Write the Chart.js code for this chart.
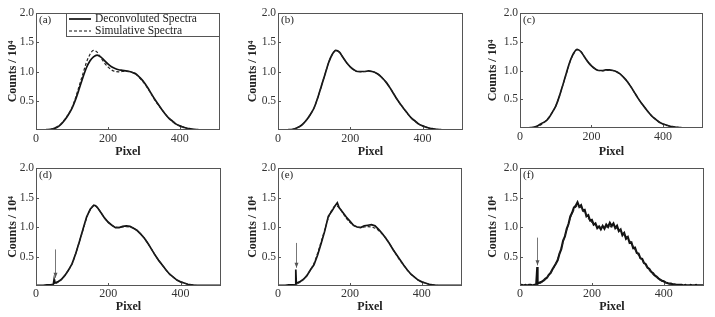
<!DOCTYPE html>
<html>
<head>
<meta charset="utf-8">
<script src="https://cdn.jsdelivr.net/npm/chart.js@4.4.1/dist/chart.umd.min.js"></script>
<style>
body { margin: 0; background: #fff; width: 715px; height: 317px; position: relative; overflow: hidden; }
canvas { position: absolute; }
</style>
</head>
<body>
<canvas id="pa" width="238" height="160" style="left:0;top:0"></canvas>
<canvas id="pb" width="238" height="160" style="left:240px;top:0"></canvas>
<canvas id="pc" width="237" height="160" style="left:478px;top:0"></canvas>
<canvas id="pd" width="238" height="162" style="left:0;top:155px"></canvas>
<canvas id="pe" width="238" height="162" style="left:240px;top:155px"></canvas>
<canvas id="pf" width="237" height="162" style="left:478px;top:155px"></canvas>
<script>
// axis ticks
const xTicks = [0, 200, 400];
const yTicks = [0.5, 1.0, 1.5, 2.0];

// pixel positions (every 10 px)
const pixel10 = [0,10,20,30,40,50,60,70,80,90,100,110,120,130,140,150,160,170,180,190,200,
  210,220,230,240,250,260,270,280,290,300,310,320,330,340,350,360,370,380,390,400,
  410,420,430,440,450,460,470,480,490,500,510];

// simulative spectrum (counts / 1e4)
const simulative = [0,0,0,0.005,0.01,0.03,0.06,0.11,0.18,0.27,0.38,0.55,0.75,0.95,1.15,1.29,1.36,1.33,1.24,1.15,1.08,
  1.03,1.00,0.995,1.00,1.005,1.00,0.98,0.94,0.88,0.81,0.72,0.62,0.52,0.43,0.35,0.27,0.20,0.15,0.10,0.07,
  0.05,0.03,0.02,0.01,0.005,0,0,0,0,0,0];

// deconvoluted spectra, panels a-c
const deconvA = [0,0,0,0.005,0.01,0.025,0.05,0.10,0.17,0.26,0.37,0.52,0.70,0.89,1.06,1.18,1.25,1.28,1.25,1.19,1.13,
  1.08,1.05,1.03,1.02,1.01,1.00,0.98,0.95,0.89,0.82,0.73,0.63,0.53,0.44,0.35,0.27,0.20,0.15,0.10,0.07,
  0.05,0.03,0.02,0.01,0.005,0,0,0,0,0,0];
const deconvB = [0,0,0,0.005,0.01,0.03,0.06,0.11,0.18,0.27,0.38,0.55,0.75,0.95,1.15,1.29,1.36,1.33,1.24,1.15,1.08,
  1.03,1.00,1.00,1.00,1.01,1.00,0.98,0.94,0.88,0.81,0.72,0.62,0.52,0.43,0.35,0.27,0.20,0.15,0.10,0.07,
  0.05,0.03,0.02,0.01,0.005,0,0,0,0,0,0];
const deconvC = [0,0,0,0.005,0.015,0.04,0.08,0.11,0.17,0.27,0.38,0.55,0.75,0.96,1.16,1.30,1.37,1.33,1.24,1.15,1.08,
  1.03,1.00,1.00,1.01,1.01,1.00,0.98,0.94,0.88,0.81,0.72,0.62,0.52,0.43,0.35,0.27,0.20,0.15,0.10,0.07,
  0.05,0.03,0.02,0.01,0.005,0,0,0,0,0,0];

// panels d, e: spike near pixel 50
const pixelSpike = [0,10,20,30,40,48,49,50,51,52,60,70,80,90,100,110,120,130,140,150,160,165,
  170,180,190,200,210,220,230,240,250,260,270,280,290,300,310,320,330,340,350,360,370,380,390,400,
  410,420,430,440,450,460,470,480,490,500,510];
const deconvD = [0.01,0.01,0.01,0.02,0.02,0.03,0.03,0.11,0.05,0.05,0.07,0.11,0.18,0.27,0.38,0.55,0.75,0.96,1.17,1.30,1.37,1.36,
  1.33,1.24,1.15,1.08,1.03,0.99,0.99,1.01,1.02,1.01,0.98,0.94,0.88,0.81,0.72,0.62,0.52,0.43,0.35,0.27,0.20,0.15,0.10,0.07,
  0.05,0.03,0.02,0.01,0.01,0.01,0.01,0.01,0.01,0.01,0.01];
const deconvE = [0.01,0.01,0.01,0.02,0.02,0.02,0.02,0.28,0.04,0.05,0.07,0.11,0.17,0.27,0.36,0.52,0.72,0.93,1.18,1.27,1.37,1.41,
  1.33,1.25,1.17,1.10,1.03,1.00,0.99,1.02,1.03,1.04,1.02,0.96,0.89,0.81,0.72,0.62,0.53,0.44,0.35,0.27,0.20,0.15,0.10,0.07,
  0.05,0.03,0.02,0.01,0.01,0.01,0.01,0.01,0.01,0.01,0.01];

// panel f: every 5 px, spike near pixel 48
const pixelF = [0,5,10,15,20,25,30,35,40,45,47,48,49,
  55,60,65,70,75,80,85,90,95,100,105,110,115,120,125,130,135,140,145,150,
  155,160,165,170,175,180,185,190,195,200,205,210,215,220,225,230,235,240,245,250,
  255,260,265,270,275,280,285,290,295,300,305,310,315,320,325,330,335,340,345,350,
  355,360,365,370,375,380,385,390,395,400,405,410,415,420,425,430,435,440,445,450,
  455,460,465,470,475,480,485,490,495,500,505,510];
const deconvF = [0.01,0.02,0.01,0.02,0.01,0.02,0.02,0.01,0.02,0.02,0.02,0.32,0.04,
  0.06,0.07,0.09,0.12,0.14,0.19,0.22,0.28,0.33,0.38,0.44,0.55,0.63,0.77,0.84,0.97,1.05,1.18,1.24,1.33,
  1.36,1.42,1.34,1.37,1.28,1.29,1.18,1.20,1.11,1.12,1.04,1.06,0.98,1.01,0.96,1.02,0.97,1.04,1.00,1.07,
  1.02,1.06,0.98,1.02,0.93,0.96,0.86,0.90,0.80,0.83,0.73,0.74,0.64,0.65,0.56,0.55,0.47,0.46,0.39,0.37,
  0.31,0.29,0.24,0.22,0.18,0.16,0.13,0.11,0.09,0.08,0.06,0.05,0.04,0.04,0.03,0.03,0.02,0.02,0.02,0.02,
  0.01,0.02,0.01,0.01,0.02,0.01,0.01,0.02,0.01,0.01,0.01,0.01];

// arrows in panels d, e, f
const arrowPixel = [52, 50, 48];
const arrowFrom = [0.62, 0.73, 0.82];
const arrowTo = [0.14, 0.31, 0.35];

const SERIF = '"Liberation Serif", "Times New Roman", serif';

function pts(xs, ys) {
  return xs.map((x, i) => ({ x: x, y: ys[i] }));
}

const framePlugin = {
  id: 'frame',
  afterDraw(chart, args, opts) {
    const { ctx, chartArea: a } = chart;
    const xs = chart.scales.x, ys = chart.scales.y;
    ctx.save();
    ctx.strokeStyle = '#555';
    ctx.lineWidth = 1;
    ctx.strokeRect(a.left + 0.5, a.top + 0.5, a.right - a.left - 1, a.bottom - a.top - 1);
    ctx.beginPath();
    yTicks.forEach(v => {
      const y = Math.round(ys.getPixelForValue(v)) + 0.5;
      ctx.moveTo(a.left, y); ctx.lineTo(a.left + 3, y);
    });
    xTicks.forEach(v => {
      const x = Math.round(xs.getPixelForValue(v)) + 0.5;
      ctx.moveTo(x, a.bottom); ctx.lineTo(x, a.bottom - 3);
    });
    ctx.stroke();
    ctx.fillStyle = '#222';
    ctx.font = '11px ' + SERIF;
    ctx.textBaseline = 'top';
    ctx.fillText(opts.tag, a.left + 3, a.top + 2);

    if (opts.arrow != null) {
      const i = opts.arrow;
      const x = Math.round(xs.getPixelForValue(arrowPixel[i])) + 0.5;
      const y0 = ys.getPixelForValue(arrowFrom[i]);
      const y1 = ys.getPixelForValue(arrowTo[i]);
      ctx.strokeStyle = '#777';
      ctx.beginPath();
      ctx.moveTo(x, y0); ctx.lineTo(x, y1);
      ctx.stroke();
      ctx.fillStyle = '#555';
      ctx.beginPath();
      ctx.moveTo(x - 2, y1 - 5); ctx.lineTo(x + 2, y1 - 5); ctx.lineTo(x, y1);
      ctx.closePath();
      ctx.fill();
    }

    if (opts.legend) {
      const left = a.left + 30, top = a.top, right = a.right, bottom = a.top + 23;
      ctx.fillStyle = '#fff';
      ctx.fillRect(left, top, right - left, bottom - top);
      ctx.strokeStyle = '#555';
      ctx.strokeRect(left + 0.5, top + 0.5, right - left - 1, bottom - top);
      const items = chart.data.datasets.slice().reverse();
      items.forEach((ds, k) => {
        const y = top + 6 + k * 12;
        ctx.strokeStyle = '#111';
        ctx.lineWidth = ds.borderWidth;
        ctx.setLineDash(ds.borderDash || []);
        ctx.beginPath();
        ctx.moveTo(left + 3, y); ctx.lineTo(left + 25, y);
        ctx.stroke();
        ctx.setLineDash([]);
        ctx.fillStyle = '#222';
        ctx.font = '11.5px ' + SERIF;
        ctx.textBaseline = 'middle';
        ctx.fillText(ds.label, left + 29, y);
      });
    }
    ctx.restore();
  }
};

function makePanel(id, p) {
  const datasets = [
    {
      label: 'Simulative Spectra',
      data: pts(pixel10, simulative),
      borderColor: '#222',
      borderWidth: 1.2,
      borderDash: [3, 2],
      pointRadius: 0,
      cubicInterpolationMode: 'monotone'
    },
    {
      label: 'Deconvoluted Spectra',
      data: pts(p.xs, p.ys),
      borderColor: '#111',
      borderWidth: p.width || 1.7,
      pointRadius: 0,
      cubicInterpolationMode: p.smooth ? 'monotone' : 'default',
      tension: 0
    }
  ];
  new Chart(document.getElementById(id), {
    type: 'line',
    data: { datasets: datasets },
    plugins: [framePlugin],
    options: {
      responsive: false,
      animation: false,
      devicePixelRatio: 1,
      layout: { padding: { left: p.padL, right: p.padR, top: 13, bottom: 0 } },
      plugins: {
        legend: { display: false },
        tooltip: { enabled: false },
        frame: { tag: p.tag, legend: !!p.legend, arrow: p.arrow }
      },
      scales: {
        x: {
          type: 'linear',
          min: 0,
          max: 512,
          afterBuildTicks: s => { s.ticks = xTicks.map(v => ({ value: v })); },
          afterFit: s => { s.height = p.xH; },
          grid: { display: false, drawTicks: false },
          border: { display: false },
          ticks: { color: '#333', padding: p.tickPad, maxRotation: 0, font: { family: SERIF, size: 12 } },
          title: {
            display: true,
            text: 'Pixel',
            color: '#222',
            padding: { top: 0, bottom: p.titlePad },
            font: { family: SERIF, size: 12, weight: 'bold' }
          }
        },
        y: {
          min: 0,
          max: 2,
          afterBuildTicks: s => { s.ticks = yTicks.map(v => ({ value: v })); },
          afterFit: s => { s.width = p.yW; },
          grid: { display: false, drawTicks: false },
          border: { display: false },
          ticks: { color: '#333', padding: 2, callback: v => v.toFixed(1), font: { family: SERIF, size: 11.5 } },
          title: {
            display: true,
            text: 'Counts / 10⁴',
            color: '#222',
            padding: 0,
            font: { family: SERIF, size: 12, weight: 'bold' }
          }
        }
      }
    }
  });
}

makePanel('pa', { tag: '(a)', xs: pixel10, ys: deconvA, smooth: true, legend: true, padL: 6, padR: 18, yW: 30, xH: 30, tickPad: 2, titlePad: 1 });
makePanel('pb', { tag: '(b)', xs: pixel10, ys: deconvB, smooth: true, padL: 6, padR: 15, yW: 32, xH: 30, tickPad: 2, titlePad: 1 });
makePanel('pc', { tag: '(c)', xs: pixel10, ys: deconvC, smooth: true, padL: 8, padR: 12, yW: 34, xH: 32, tickPad: 2, titlePad: 1 });
makePanel('pd', { tag: '(d)', xs: pixelSpike, ys: deconvD, arrow: 0, padL: 6, padR: 17, yW: 30, xH: 31, tickPad: 1, titlePad: 3 });
makePanel('pe', { tag: '(e)', xs: pixelSpike, ys: deconvE, arrow: 1, padL: 6, padR: 16, yW: 32, xH: 31, tickPad: 1, titlePad: 3 });
makePanel('pf', { tag: '(f)', xs: pixelF, ys: deconvF, arrow: 2, width: 2.1, padL: 8, padR: 11, yW: 34, xH: 31, tickPad: 1, titlePad: 3 });
</script>
</body>
</html>
